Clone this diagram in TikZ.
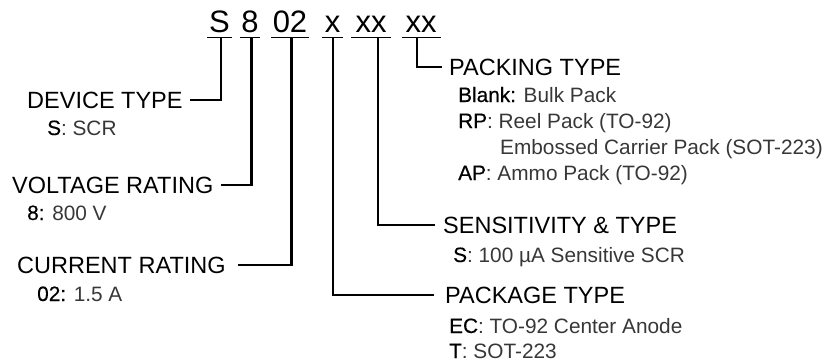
\documentclass[tikz,border=0pt]{standalone}
\usepackage{fontspec}
\setmainfont{Liberation Sans}
\newfontfamily\codefont[FakeBold=0.4]{Liberation Sans}
\definecolor{valgray}{RGB}{55,55,55}
\newcommand{\cd}[1]{{\codefont\color{black}#1}}
\begin{document}
\begin{tikzpicture}[x=1pt,y=-1pt,
  part/.style={font=\fontsize{31}{31}\selectfont, anchor=base, inner sep=0pt, text depth=0pt},
  head/.style={font=\fontsize{23.5}{28}\selectfont, anchor=base west, inner sep=0pt, text height=16.8pt, text depth=0pt},
  sub/.style={font=\fontsize{20.8}{25}\selectfont, anchor=base west, inner sep=0pt, text=valgray},
  conn/.style={line width=2.1pt},
  uline/.style={line width=1.4pt}]
\useasboundingbox (0,0) rectangle (825,364);

% part number
\node[part] (p1) at (219.5,32) {S};
\node[part] (p2) at (250,32) {8};
\node[part] (p3) at (290,32) {02};
\node[part] (p4) at (332.5,32) {x};
\node[part] (p5) at (371,32) {xx};
\node[part] (p6) at (421,32) {xx};

\draw[uline] (207,37.5) -- (232,37.5);
\draw[uline] (240,37.5) -- (260,37.5);
\draw[uline] (271,37.5) -- (309,37.5);
\draw[uline] (322,37.5) -- (343,37.5);
\draw[uline] (351,37.5) -- (391,37.5);
\draw[uline] (402,37.5) -- (441,37.5);

\coordinate (t1) at (221,37.5);
\coordinate (t2) at (251.5,37.5);
\coordinate (t3) at (291.5,37.5);
\coordinate (t4) at (333,37.5);
\coordinate (t5) at (378,37.5);
\coordinate (t6) at (417,37.5);

% headings
\node[head] (dev)  at (27,108)  {DEVICE TYPE};
\node[head] (volt) at (12,193)  {VOLTAGE RATING};
\node[head] (curr) at (17,273)  {CURRENT RATING};
\node[head] (pack) at (449,75)  {PACKING TYPE};
\node[head] (sens) at (443,233) {SENSITIVITY \& TYPE};
\node[head] (pkg)  at (445,303) {PACKAGE TYPE};

% descriptions
\node[sub] (s1) at (47,135)  {\cd{S}: SCR};
\node[sub] (s2) at (27,220)  {\cd{8:} 800 V};
\node[sub] (s3) at (37,301)  {\cd{02:} 1.5 A};
\node[sub] (b1) at (458,102) {\cd{Blank:} Bulk Pack};
\node[sub] (b2) at (458,128) {\cd{RP}: Reel Pack (TO-92)};
\node[sub] (b3) at (500,154) {Embossed Carrier Pack (SOT-223)};
\node[sub] (b4) at (458,180) {\cd{AP}: Ammo Pack (TO-92)};
\node[sub] (ss) at (453,262) {\cd{S}: 100 µA Sensitive SCR};
\node[sub] (e1) at (449,333) {\cd{EC}: TO-92 Center Anode};
\node[sub] (e2) at (449,358) {\cd{T}: SOT-223};

% connectors
\draw[conn] (t1) |- ([xshift=7pt]dev.east);
\draw[conn] (t2) |- ([xshift=8pt]volt.east);
\draw[conn] (t3) |- ([xshift=12pt]curr.east);
\draw[conn] (t4) |- ([xshift=-11pt]pkg.west);
\draw[conn] (t5) |- ([xshift=-8pt]sens.west);
\draw[conn] (t6) |- ([xshift=-7pt]pack.west);
\end{tikzpicture}
\end{document}
